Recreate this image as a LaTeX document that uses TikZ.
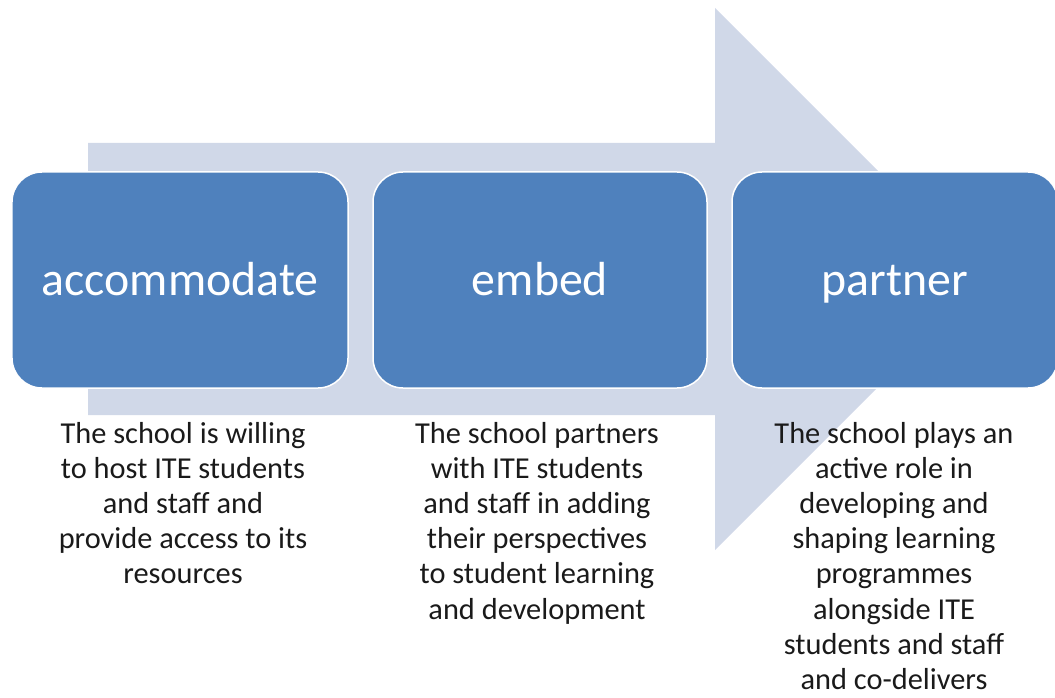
\documentclass[tikz,border=0pt]{standalone}
\usepackage{fontspec}
\setmainfont{Carlito}
\definecolor{boxblue}{HTML}{4F81BD}
\definecolor{arrowfill}{HTML}{D0D8E8}
\definecolor{bodytext}{HTML}{1A1A1A}
\begin{document}
\begin{tikzpicture}[x=1bp,y=-1bp,
  stagebox/.style={draw=white, line width=1.5bp, fill=boxblue, rounded corners=30bp,
    text=white, font=\fontsize{48}{58}\selectfont, inner sep=0pt, minimum height=216bp,
    text height=36bp, text depth=6bp},
  desc/.style={align=center, text=bodytext, font=\fontsize{30.5}{35.3}\selectfont,
    inner sep=0pt, anchor=north}]
\useasboundingbox (0,0) rectangle (1055,698);
\fill[arrowfill] (88,143) -- (715,143) -- (715,8) -- (986,279) -- (715,550) -- (715,415) -- (88,415) -- cycle;
\node[stagebox, minimum width=336bp] (acc) at (180,280) {accommodate};
\node[stagebox, minimum width=334bp] (emb) at (540,280) {embed};
\node[stagebox, minimum width=326bp] (par) at (895,280) {partner};
\node[desc] (accd) at (183,422) {The school is willing\\to host ITE students\\and staff and\\provide access to its\\resources};
\node[desc] (embd) at (537,422) {The school partners\\with ITE students\\and staff in adding\\their perspectives\\to student learning\\and development};
\node[desc] (pard) at (894,422) {The school plays an\\active role in\\developing and\\shaping learning\\programmes\\alongside ITE\\students and staff\\and co-delivers};
\end{tikzpicture}
\end{document}
